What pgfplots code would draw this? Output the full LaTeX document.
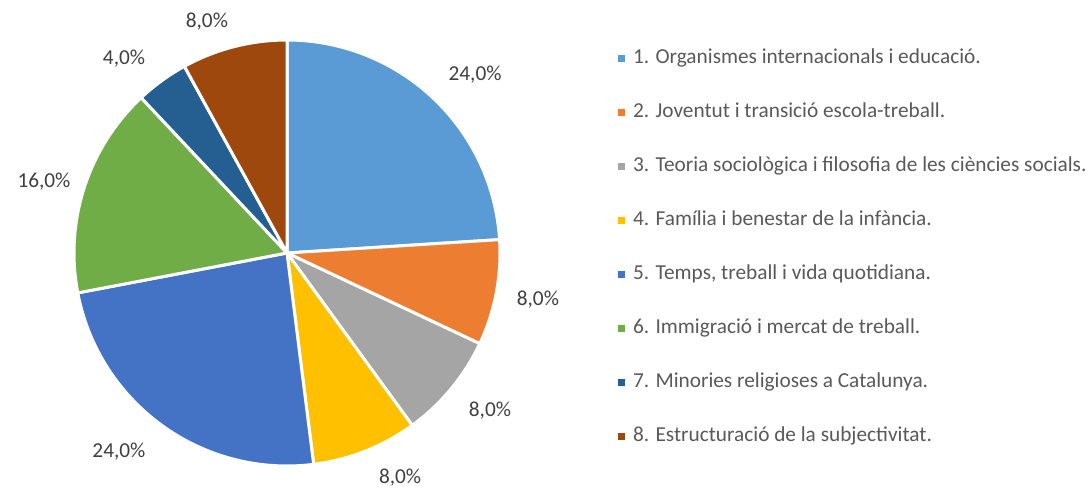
\documentclass[border=0pt]{standalone}
\usepackage{pgfplots}
\pgfplotsset{compat=1.18}
\usepackage{fontspec}
\setmainfont{Carlito}
\definecolor{c1}{HTML}{5B9BD5}
\definecolor{c2}{HTML}{ED7D31}
\definecolor{c3}{HTML}{A5A5A5}
\definecolor{c4}{HTML}{FFC000}
\definecolor{c5}{HTML}{4472C4}
\definecolor{c6}{HTML}{70AD47}
\definecolor{c7}{HTML}{255E91}
\definecolor{c8}{HTML}{9E480E}
\definecolor{txtgray}{HTML}{595959}
\definecolor{lblgray}{HTML}{404040}
% slice: cumulative start (%), value (%), colour
\newcommand\pieslice[3]{%
  \pgfmathsetmacro\aA{90-3.6*#1}%
  \pgfmathsetmacro\aB{90-3.6*(#1+#2)}%
  \edef\tmp{\noexpand\addplot[fill=#3, draw=white, line width=3bp, domain=\aB:\aA, samples=90] ({cos(x)},{sin(x)}) -- (axis cs:0,0) -- cycle;}%
  \tmp
}
\begin{document}
\begin{tikzpicture}
\path[use as bounding box] (0,0) rectangle (1088bp,488bp);
\begin{axis}[
  at={(287bp,235bp)}, anchor=center,
  scale only axis, width=426bp, height=426bp,
  xmin=-1, xmax=1, ymin=-1, ymax=1,
  hide axis, clip=false,
  legend cell align=left,
  legend image code/.code={\fill[#1,draw=none] (0bp,-3.5bp) rectangle (7bp,3.5bp);},
  legend style={at={(1.277,0.980)}, anchor=north west, draw=none, fill=none,
    inner sep=0pt, outer sep=0pt, row sep=35bp,
    nodes={inner sep=0pt, text height=15bp, text depth=4bp, font=\fontsize{21.3bp}{25bp}\selectfont, text=txtgray},
    /tikz/every odd column/.style={column sep=8bp}},
]
\pieslice{0}{24}{c1}
\pieslice{24}{8}{c2}
\pieslice{32}{8}{c3}
\pieslice{40}{8}{c4}
\pieslice{48}{24}{c5}
\pieslice{72}{16}{c6}
\pieslice{88}{4}{c7}
\pieslice{92}{8}{c8}
\legend{1. Organismes internacionals i educació.,
2. Joventut i transició escola-treball.,
3. Teoria sociològica i filosofia de les ciències socials.,
4. Família i benestar de la infància.,
5. Temps{,} treball i vida quotidiana.,
6. Immigració i mercat de treball.,
7. Minories religioses a Catalunya.,
8. Estructuració de la subjectivitat.}
\tikzset{lbl/.style={font=\fontsize{21.3bp}{25bp}\selectfont, text=lblgray, inner sep=0pt}}
\node[lbl] at (axis cs:0.883,0.836) {24,0\%};
\node[lbl] at (axis cs:1.178,-0.221) {8,0\%};
\node[lbl] at (axis cs:0.953,-0.742) {8,0\%};
\node[lbl] at (axis cs:0.531,-1.056) {8,0\%};
\node[lbl] at (axis cs:-0.789,-0.934) {24,0\%};
\node[lbl] at (axis cs:-1.141,0.333) {16,0\%};
\node[lbl] at (axis cs:-0.765,0.915) {4,0\%};
\node[lbl] at (axis cs:-0.376,1.085) {8,0\%};
\end{axis}
\end{tikzpicture}
\end{document}
